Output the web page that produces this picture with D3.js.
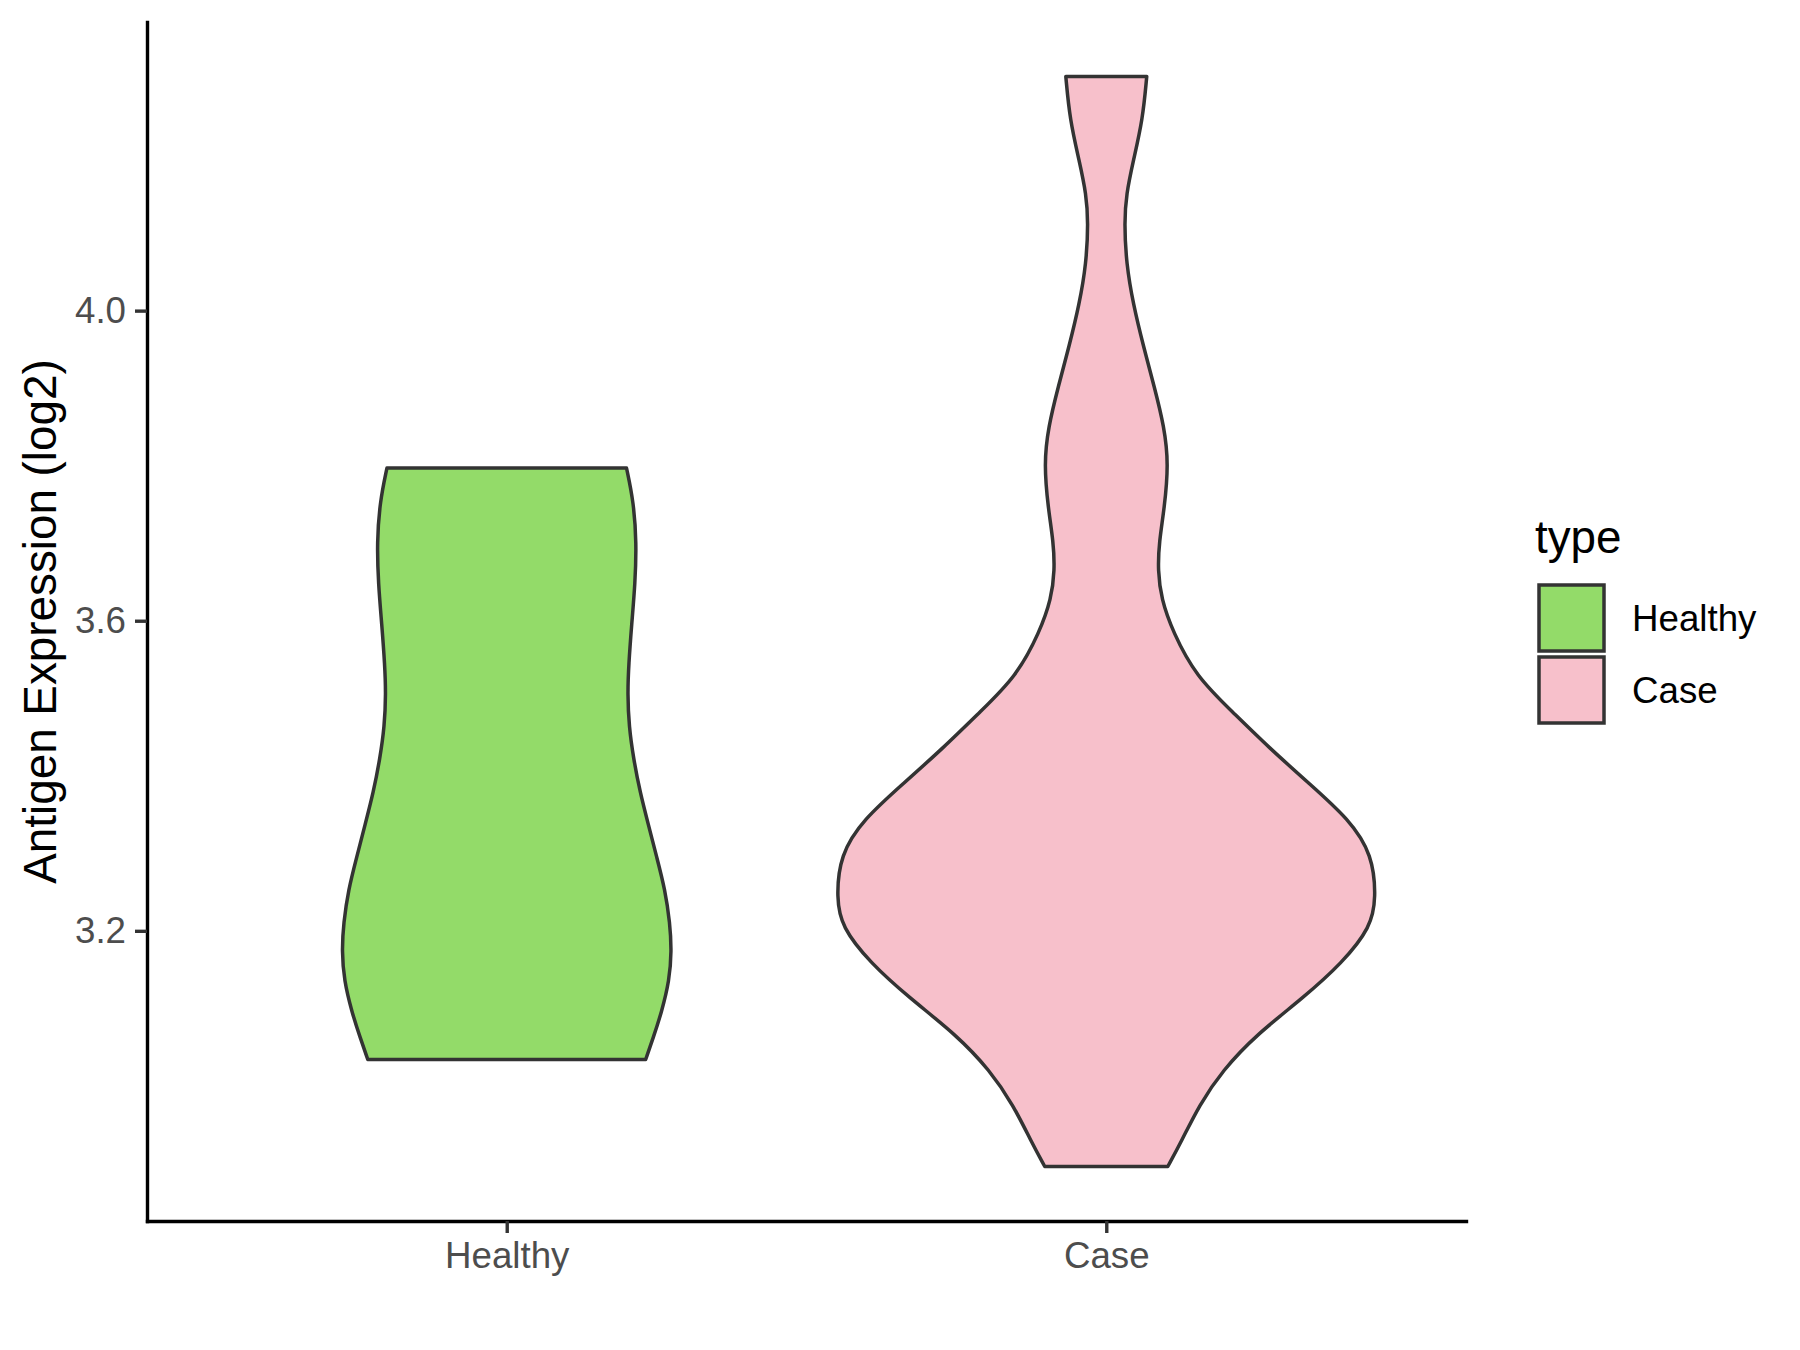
<!DOCTYPE html>
<html>
<head>
<meta charset="utf-8">
<script src="https://cdn.jsdelivr.net/npm/d3@7"></script>
<style>
	body { margin: 0; background: #fff; }
	svg { display: block; font-family: 'Liberation Sans', Arial, sans-serif; }
</style>
</head>
<body>
<div id="viz"></div>
<script>
// groups, in axis order
const CATEGORIES = ['Healthy', 'Case'];
const COLORS = ['#93DB69', '#F7C0CB'];

// violin outline: y = log2 expression, density relative to the widest point
const HEALTHY_Y = [3.034, 3.062, 3.095, 3.136, 3.174, 3.210, 3.253, 3.295, 3.337, 3.379, 3.422, 3.464, 3.506, 3.543, 3.595, 3.648, 3.701, 3.754, 3.797];
const HEALTHY_DENSITY = [0.515, 0.543, 0.574, 0.603, 0.611, 0.605, 0.587, 0.556, 0.525, 0.494, 0.470, 0.453, 0.448, 0.452, 0.463, 0.476, 0.481, 0.470, 0.444];

const CASE_Y = [2.896, 2.928, 2.975, 3.020, 3.066, 3.113, 3.159, 3.205, 3.242, 3.298, 3.344, 3.390, 3.436, 3.482, 3.528, 3.586, 3.628, 3.665, 3.702, 3.744, 3.802, 3.850, 3.902, 3.955, 4.008, 4.061, 4.114, 4.150, 4.193, 4.246, 4.302];
const CASE_DENSITY = [0.228, 0.278, 0.344, 0.431, 0.556, 0.728, 0.876, 0.981, 1.000, 0.987, 0.900, 0.752, 0.604, 0.469, 0.333, 0.246, 0.204, 0.191, 0.196, 0.215, 0.231, 0.215, 0.178, 0.137, 0.100, 0.074, 0.067, 0.074, 0.100, 0.135, 0.150];

const Y_TICKS = [3.2, 3.6, 4.0];
const Y_TITLE = 'Antigen Expression (log2)';
const LEGEND_TITLE = 'type';

const WIDTH = 1800, HEIGHT = 1350;
const PLOT_LEFT = 147, PLOT_RIGHT = 1466, PLOT_TOP = 22, PLOT_BOTTOM = 1221;
const OUTLINE = '#333333';
const LINE_W = 3.5;

const groups = [
	HEALTHY_Y.map((y, i) => ({ y: y, d: HEALTHY_DENSITY[i] })),
	CASE_Y.map((y, i) => ({ y: y, d: CASE_DENSITY[i] }))
];

const svg = d3.select('#viz').append('svg')
	.attr('width', WIDTH)
	.attr('height', HEIGHT);

// ggplot style 5% expansion of the data range
const allY = HEALTHY_Y.concat(CASE_Y);
const yMin = d3.min(allY), yMax = d3.max(allY);
const pad = (yMax - yMin) * 0.05;

const yScale = d3.scaleLinear()
	.domain([yMin - pad, yMax + pad])
	.range([PLOT_BOTTOM, PLOT_TOP]);

const xScale = d3.scalePoint()
	.domain(CATEGORIES)
	.range([PLOT_LEFT, PLOT_RIGHT])
	.padding(0.6);

const maxDensity = d3.max(CASE_DENSITY.concat(HEALTHY_DENSITY));
const wScale = d3.scaleLinear()
	.domain([0, maxDensity])
	.range([0, xScale.step() * 0.45]);

// violins
groups.forEach((pts, i) => {
	const cx = xScale(CATEGORIES[i]);
	const area = d3.area()
		.y((p) => yScale(p.y))
		.x0((p) => cx - wScale(p.d))
		.x1((p) => cx + wScale(p.d))
		.curve(d3.curveBasis);

	svg.append('path')
		.datum(pts)
		.attr('class', 'violin')
		.attr('fill', COLORS[i])
		.attr('stroke', OUTLINE)
		.attr('stroke-width', LINE_W)
		.attr('stroke-linejoin', 'round')
		.attr('d', area);
});

// axes
svg.append('g')
	.attr('class', 'y axis')
	.attr('transform', 'translate(' + PLOT_LEFT + ',0)')
	.call(d3.axisLeft(yScale).tickValues(Y_TICKS).tickFormat(d3.format('.1f')).tickSize(12).tickSizeOuter(0).tickPadding(9));

svg.append('g')
	.attr('class', 'x axis')
	.attr('transform', 'translate(0,' + PLOT_BOTTOM + ')')
	.call(d3.axisBottom(xScale).tickSize(12).tickSizeOuter(0).tickPadding(9));

svg.selectAll('.axis .domain')
	.attr('stroke', '#000')
	.attr('stroke-width', 3.4)
	.attr('stroke-linecap', 'square');

svg.selectAll('.axis .tick line')
	.attr('stroke', OUTLINE)
	.attr('stroke-width', 3.4);

svg.selectAll('.axis .tick text')
	.attr('fill', '#4D4D4D')
	.style('font-size', '36.7px')
	.style('font-family', "'Liberation Sans', Arial, sans-serif");

svg.append('text')
	.attr('class', 'y-title')
	.attr('transform', 'translate(56,' + ((PLOT_TOP + PLOT_BOTTOM) / 2) + ') rotate(-90)')
	.attr('text-anchor', 'middle')
	.attr('fill', '#000')
	.style('font-size', '45.8px')
	.text(Y_TITLE);

// legend
const legend = svg.append('g')
	.attr('class', 'legend')
	.attr('transform', 'translate(1535,0)');

legend.append('text')
	.attr('x', 0)
	.attr('y', 553)
	.attr('fill', '#000')
	.style('font-size', '45.8px')
	.text(LEGEND_TITLE);

CATEGORIES.forEach((c, i) => {
	const top = 585 + i * 72;
	legend.append('rect')
		.attr('x', 4)
		.attr('y', top)
		.attr('width', 65)
		.attr('height', 66)
		.attr('fill', COLORS[i])
		.attr('stroke', OUTLINE)
		.attr('stroke-width', LINE_W);

	legend.append('text')
		.attr('x', 97)
		.attr('y', top + 46)
		.attr('fill', '#000')
		.style('font-size', '36.7px')
		.text(c);
});
</script>
</body>
</html>
